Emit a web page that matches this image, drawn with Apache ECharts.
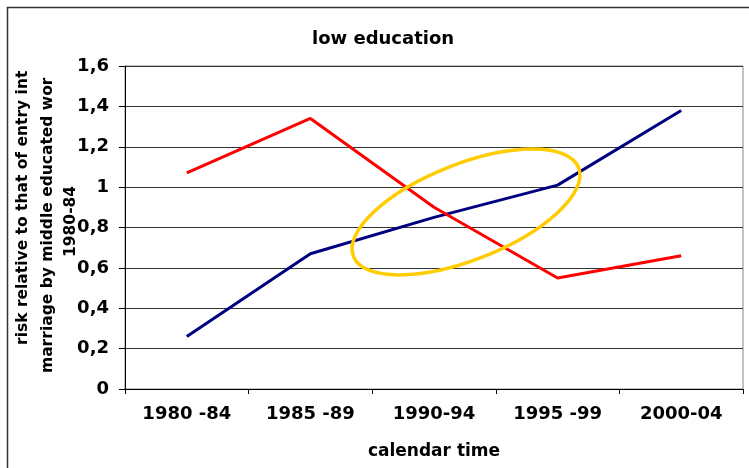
<!DOCTYPE html>
<html>
<head>
<meta charset="utf-8">
<script src="https://cdn.jsdelivr.net/npm/echarts@6/dist/echarts.min.js"></script>
<style>
  html, body { margin: 0; padding: 0; background: #fff; overflow: hidden; }
  #chart { width: 749px; height: 468px; }
</style>
</head>
<body>
<div id="chart"></div>
<script>
// categories and values
var periods = ['1980 -84', '1985 -89', '1990-94', '1995 -99', '2000-04'];
var blueSeries = [0.26, 0.67, 0.85, 1.01, 1.38];
var redSeries = [1.07, 1.34, 0.90, 0.55, 0.66];
var yTicks = [0, 0.2, 0.4, 0.6, 0.8, 1, 1.2, 1.4, 1.6];

var font = 'DejaVu Sans, Verdana, sans-serif';
var chart = echarts.init(document.getElementById('chart'));

var options = {
  animation: false,
  title: {
    text: 'low education',
    left: 307,
    top: 25,
    textStyle: { fontFamily: font, fontSize: 18, fontWeight: 'bold', color: '#000' }
  },
  grid: {
    left: 125, top: 66, right: 6, bottom: 79,
    show: true,
    borderColor: '#888',
    borderWidth: 1
  },
  xAxis: {
    type: 'category',
    data: periods,
    boundaryGap: true,
    name: 'calendar time',
    nameLocation: 'middle',
    nameGap: 54,
    nameTextStyle: { fontFamily: font, fontSize: 17, fontWeight: 'bold', color: '#000' },
    axisLine: { lineStyle: { color: '#000', width: 1 } },
    axisTick: { show: true, length: 5, lineStyle: { color: '#000' } },
    axisLabel: { margin: 16, fontFamily: font, fontSize: 18, fontWeight: 'bold', color: '#000' },
    splitLine: { show: false }
  },
  yAxis: {
    type: 'value',
    min: yTicks[0],
    max: yTicks[yTicks.length - 1],
    interval: 0.2,
    axisLine: { show: true, lineStyle: { color: '#000', width: 1 } },
    axisTick: { show: true, length: 6, lineStyle: { color: '#000' } },
    axisLabel: {
      margin: 16,
      fontFamily: font, fontSize: 18, fontWeight: 'bold', color: '#000',
      formatter: function (v) { return String(+v.toFixed(1)).replace('.', ','); }
    },
    splitLine: { show: true, lineStyle: { color: '#333', width: 1 } }
  },
  series: [
    {
      name: 'blue',
      type: 'line',
      data: blueSeries,
      symbol: 'none',
      lineStyle: { color: '#000080', width: 3 }
    },
    {
      name: 'red',
      type: 'line',
      data: redSeries,
      symbol: 'none',
      lineStyle: { color: '#ff0000', width: 3 }
    }
  ],
  graphic: [
    // outer frame, only left and top edges are inside the picture
    {
      type: 'polyline', z: 100, silent: true,
      shape: { points: [[7.5, 470], [7.5, 7.5], [752, 7.5]] },
      style: { fill: 'none', stroke: '#333', lineWidth: 1.5 }
    },
    // y-axis name, clipped the way it is in the picture
    {
      type: 'text', z: 100, x: 23, y: 345, rotation: Math.PI / 2,
      style: { text: 'risk relative to that of entry int', font: 'bold 15.5px ' + font, fill: '#000', align: 'left', verticalAlign: 'middle' }
    },
    {
      type: 'text', z: 100, x: 48, y: 373, rotation: Math.PI / 2,
      style: { text: 'marriage by middle educated wor', font: 'bold 15.5px ' + font, fill: '#000', align: 'left', verticalAlign: 'middle' }
    },
    {
      type: 'text', z: 100, x: 71, y: 257, rotation: Math.PI / 2,
      style: { text: '1980-84', font: 'bold 15.5px ' + font, fill: '#000', align: 'left', verticalAlign: 'middle' }
    },
    // hand drawn yellow ellipse
    {
      type: 'ellipse', z: 100, silent: true,
      x: 466, y: 212, rotation: 0.375,
      shape: { cx: 0, cy: 0, rx: 121, ry: 48 },
      style: { fill: 'none', stroke: '#ffcc00', lineWidth: 3.5 }
    }
  ]
};

chart.setOption(options);
</script>
</body>
</html>
